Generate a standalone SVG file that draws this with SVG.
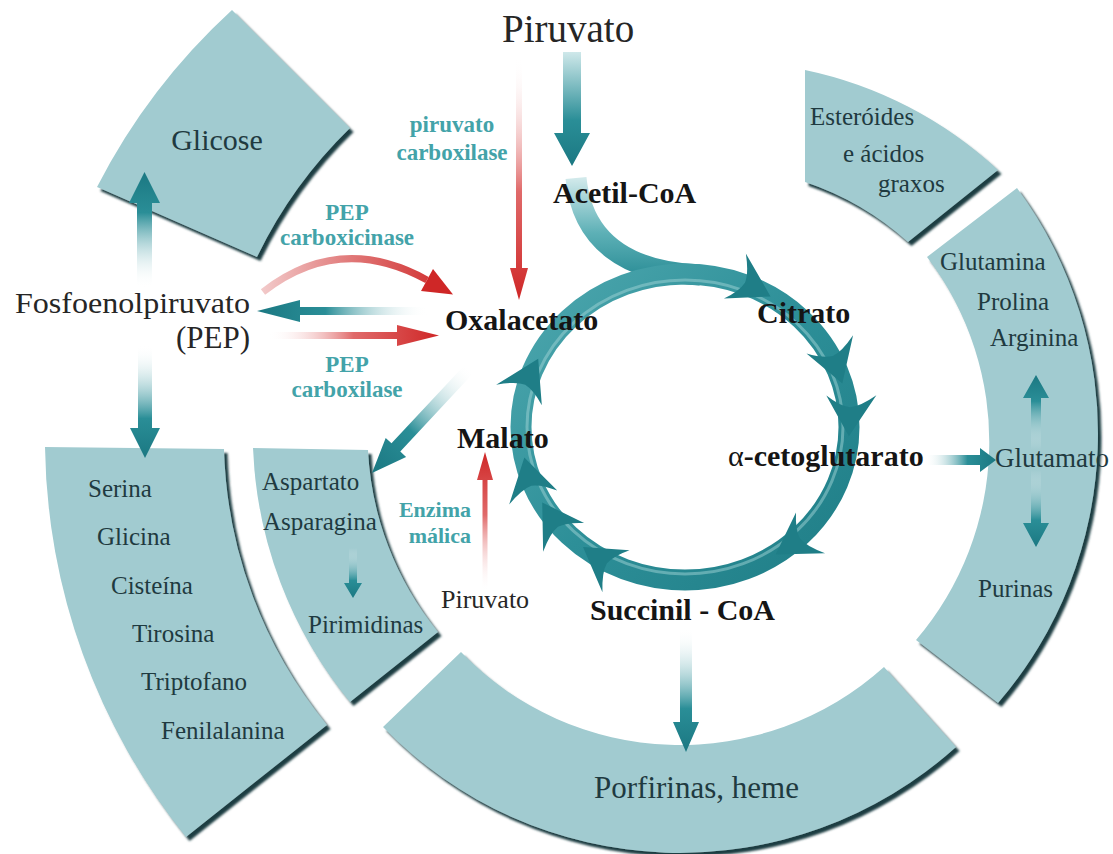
<svg xmlns="http://www.w3.org/2000/svg" width="1113" height="854" viewBox="0 0 1113 854">
<style>
.seg{fill:#a1cbd0;filter:url(#sh)}
.st{font-family:"Liberation Serif",serif;font-size:25px;fill:#1f3a40}
.bl{font-family:"Liberation Serif",serif;font-size:30px;font-weight:bold;fill:#151515}
.lb{font-family:"Liberation Serif",serif;fill:#262626}
.en{font-family:"Liberation Serif",serif;font-weight:bold;fill:#43a3a9}
</style>
<defs>
<filter id="sh" x="-10%" y="-10%" width="125%" height="125%">
<feDropShadow dx="3.5" dy="4" stdDeviation="0.8" flood-color="#1d3c42" flood-opacity="1"/>
</filter>
<linearGradient id="tDown" x1="0" y1="0" x2="0" y2="1"><stop offset="0" stop-color="#ffffff" stop-opacity="0"/><stop offset="0.65" stop-color="#2a8e97"/><stop offset="1" stop-color="#1b7882"/></linearGradient>
<linearGradient id="tDown2" x1="0" y1="0" x2="0" y2="1"><stop offset="0" stop-color="#cfe8ea"/><stop offset="0.6" stop-color="#2a8e97"/><stop offset="1" stop-color="#1b7882"/></linearGradient>
<linearGradient id="tUp" x1="0" y1="1" x2="0" y2="0"><stop offset="0" stop-color="#ffffff" stop-opacity="0"/><stop offset="0.65" stop-color="#2a8e97"/><stop offset="1" stop-color="#1b7882"/></linearGradient>
<linearGradient id="tLeft" x1="1" y1="0" x2="0" y2="0"><stop offset="0" stop-color="#ffffff" stop-opacity="0"/><stop offset="0.6" stop-color="#2a8e97"/><stop offset="1" stop-color="#1b7882"/></linearGradient>
<linearGradient id="tRight" x1="0" y1="0" x2="1" y2="0"><stop offset="0" stop-color="#ffffff" stop-opacity="0"/><stop offset="0.6" stop-color="#2a8e97"/><stop offset="1" stop-color="#1b7882"/></linearGradient>
<linearGradient id="tDiag" gradientUnits="userSpaceOnUse" x1="470" y1="368" x2="372" y2="473"><stop offset="0" stop-color="#ffffff" stop-opacity="0"/><stop offset="0.6" stop-color="#2a8e97"/><stop offset="1" stop-color="#1b7882"/></linearGradient>
<linearGradient id="rDown" x1="0" y1="0" x2="0" y2="1"><stop offset="0" stop-color="#ffffff" stop-opacity="0"/><stop offset="0.55" stop-color="#e06a6a"/><stop offset="1" stop-color="#cf2727"/></linearGradient>
<linearGradient id="rUp" x1="0" y1="1" x2="0" y2="0"><stop offset="0" stop-color="#ffffff" stop-opacity="0"/><stop offset="0.55" stop-color="#e06a6a"/><stop offset="1" stop-color="#cf2727"/></linearGradient>
<linearGradient id="rRight" x1="0" y1="0" x2="1" y2="0"><stop offset="0" stop-color="#ffffff" stop-opacity="0"/><stop offset="0.5" stop-color="#e06a6a"/><stop offset="1" stop-color="#cf2727"/></linearGradient>
<linearGradient id="rCurve" gradientUnits="userSpaceOnUse" x1="263" y1="0" x2="453" y2="0"><stop offset="0" stop-color="#f2c9c9"/><stop offset="0.5" stop-color="#df7272"/><stop offset="1" stop-color="#cf2727"/></linearGradient>
<linearGradient id="ring" gradientUnits="userSpaceOnUse" x1="520" y1="270" x2="850" y2="590"><stop offset="0" stop-color="#4fa8af"/><stop offset="0.5" stop-color="#2d8f98"/><stop offset="1" stop-color="#1f7d86"/></linearGradient>
<linearGradient id="acet" gradientUnits="userSpaceOnUse" x1="0" y1="170" x2="0" y2="275"><stop offset="0" stop-color="#e3f2f3"/><stop offset="0.6" stop-color="#5db0b6"/><stop offset="1" stop-color="#2d8f98"/></linearGradient>
<path id="barb" d="M 4,0 L -38,-26 Q -26,-10 -25,0 Q -26,10 -36,24 Z" fill="#1f7e87"/>
</defs>
<rect width="1113" height="854" fill="#ffffff"/>

<g id="glicose">
<path class="seg" d="M 232,10 L 350,128 A 457 457 0 0 0 257,257 L 97,187 A 628 628 0 0 1 232,10 Z"/>
<text class="st" x="217" y="150" text-anchor="middle" style="font-size:30px">Glicose</text>
</g>
<g id="esteroides">
<path class="seg" d="M 805,70 A 405 405 0 0 1 998,170 L 908,242 A 295 295 0 0 0 805,182 Z"/>
<text class="st" x="810" y="125">Esteróides</text>
<text class="st" x="843" y="162">e ácidos</text>
<text class="st" x="878" y="192">graxos</text>
</g>
<g id="glutamina">
<path class="seg" d="M 927,257 L 1017,188 A 413 413 0 0 1 998,703 L 916,640 A 305 305 0 0 0 927,257 Z"/>
<text class="st" x="940" y="270">Glutamina</text>
<text class="st" x="977" y="310">Prolina</text>
<text class="st" x="990" y="346">Arginina</text>
<text class="st" x="995" y="467" style="font-size:27px">Glutamato</text>
<text class="st" x="978" y="597">Purinas</text>
</g>
<g id="porfirinas">
<path class="seg" d="M 884,667 L 956,747 A 413 413 0 0 1 383,727 L 461,652 A 305 305 0 0 0 884,667 Z"/>
<text class="st" x="594" y="798" style="font-size:31px">Porfirinas, heme</text>
</g>
<g id="aspartato">
<path class="seg" d="M 253,448 L 368,450 A 312 312 0 0 0 438,632 L 350,702 A 425 425 0 0 1 253,448 Z"/>
<text class="st" x="262" y="490">Aspartato</text>
<text class="st" x="263" y="530">Asparagina</text>
<text class="st" x="308" y="633">Pirimidinas</text>
</g>
<g id="serina">
<path class="seg" d="M 45,447 L 224,449 A 455 455 0 0 0 327,725 L 186,837 A 634 634 0 0 1 45,447 Z"/>
<text class="st" x="88" y="497">Serina</text>
<text class="st" x="97" y="545">Glicina</text>
<text class="st" x="111" y="594">Cisteína</text>
<text class="st" x="132" y="642">Tirosina</text>
<text class="st" x="141" y="690">Triptofano</text>
<text class="st" x="161" y="739">Fenilalanina</text>
</g>

<g id="krebs-cycle">
<path d="M 576,178 C 582,240 625,272 700,275" fill="none" stroke="url(#acet)" stroke-width="21"/>
<ellipse cx="685" cy="427" rx="164" ry="153" fill="none" stroke="url(#ring)" stroke-width="21"/>
<ellipse cx="685" cy="427" rx="158" ry="147" fill="none" stroke="#9fd3d6" stroke-width="3" opacity="0.5"/>
<use href="#barb" transform="translate(767,294.5) rotate(28.3)"/>
<use href="#barb" transform="translate(841,379.7) rotate(70.8)"/>
<use href="#barb" transform="translate(849,432.3) rotate(92.1)"/>
<use href="#barb" transform="translate(779,552.3) rotate(146.8)"/>
<use href="#barb" transform="translate(586.3,549.2) rotate(-144.9)"/>
<use href="#barb" transform="translate(544.4,505.8) rotate(-122.8)"/>
<use href="#barb" transform="translate(525.3,461.4) rotate(-103.9)"/>
<use href="#barb" transform="translate(536.4,362.3) rotate(-63.5)"/>
</g>

<g id="connectors">
<polygon points="563,52 581,52 581,133 590,133 572,166 554,133 563,133" fill="url(#tDown2)"/>
<polygon points="516,58 522,58 522,268 528,268 519,300 510,268 516,268" fill="url(#rDown)"/>
<polygon points="137,288 152,288 152,203 160,203 144.5,172 129,203 137,203" fill="url(#tUp)"/>
<polygon points="138,345 152,345 152,428 160,428 145,458 130,428 138,428" fill="url(#tDown)"/>
<polygon points="428,307 428,315 300,315 300,322 257,311 300,300 300,307" fill="url(#tLeft)"/>
<polygon points="268,332 397,332 397,325 439,335.5 397,346 397,339 268,339" fill="url(#rRight)"/>
<path d="M 263,292 Q 340,232 427,280" fill="none" stroke="url(#rCurve)" stroke-width="7"/>
<polygon points="453,294.5 421,291 433,269" fill="#cf2727"/>
<polygon points="474.4,372.1 400.3,451.5 406.1,457 372,473 385.7,437.9 391.5,443.3 465.6,363.9" fill="url(#tDiag)"/>
<polygon points="482.5,592 487.5,592 487.5,480 493,480 485,452 477,480 482.5,480" fill="url(#rUp)"/>
<polygon points="349,548 357,548 357,583 362,583 353,598 344,583 349,583" fill="url(#tDown)"/>
<polygon points="925,455 980,455 980,448 996,460 980,472 980,465 925,465" fill="url(#tRight)"/>
<polygon points="1031,450 1041,450 1041,398 1049,398 1036,375 1023,398 1031,398" fill="url(#tUp)"/>
<polygon points="1031,470 1041,470 1041,523 1049,523 1036,547 1023,523 1031,523" fill="url(#tDown)"/>
<polygon points="680,628 692,628 692,722 699,722 686,752 673,722 680,722" fill="url(#tDown)"/>
</g>

<g id="piruvato-top"><text class="lb" x="502" y="42" style="font-size:39px">Piruvato</text></g>
<g id="pep"><text class="lb" x="250" y="313" text-anchor="end" textLength="235" lengthAdjust="spacingAndGlyphs" style="font-size:30px">Fosfoenolpiruvato</text>
<text class="lb" x="250" y="348" text-anchor="end" style="font-size:31px">(PEP)</text></g>
<g id="acetil"><text class="bl" x="553" y="203">Acetil-CoA</text></g>
<g id="oxalacetato"><text class="bl" x="445" y="330">Oxalacetato</text></g>
<g id="citrato"><text class="bl" x="757" y="323">Citrato</text></g>
<g id="malato"><text class="bl" x="457" y="448">Malato</text></g>
<g id="cetoglutarato"><text class="bl" x="728" y="466"><tspan font-weight="normal">α</tspan>-cetoglutarato</text></g>
<g id="succinil"><text class="bl" x="590" y="620">Succinil - CoA</text></g>
<g id="piruvato-small"><text class="lb" x="441" y="608" style="font-size:26px">Piruvato</text></g>

<g id="enzyme-labels">
<text class="en" x="452" y="132" text-anchor="middle" style="font-size:23px">piruvato</text>
<text class="en" x="452" y="160" text-anchor="middle" style="font-size:23px">carboxilase</text>
<text class="en" x="347" y="220" text-anchor="middle" style="font-size:23px">PEP</text>
<text class="en" x="347" y="245" text-anchor="middle" style="font-size:23px">carboxicinase</text>
<text class="en" x="347" y="372" text-anchor="middle" style="font-size:23px">PEP</text>
<text class="en" x="347" y="397" text-anchor="middle" style="font-size:23px">carboxilase</text>
<text class="en" x="471" y="517" text-anchor="end" style="font-size:22px">Enzima</text>
<text class="en" x="471" y="543" text-anchor="end" style="font-size:22px">málica</text>
</g>
</svg>
